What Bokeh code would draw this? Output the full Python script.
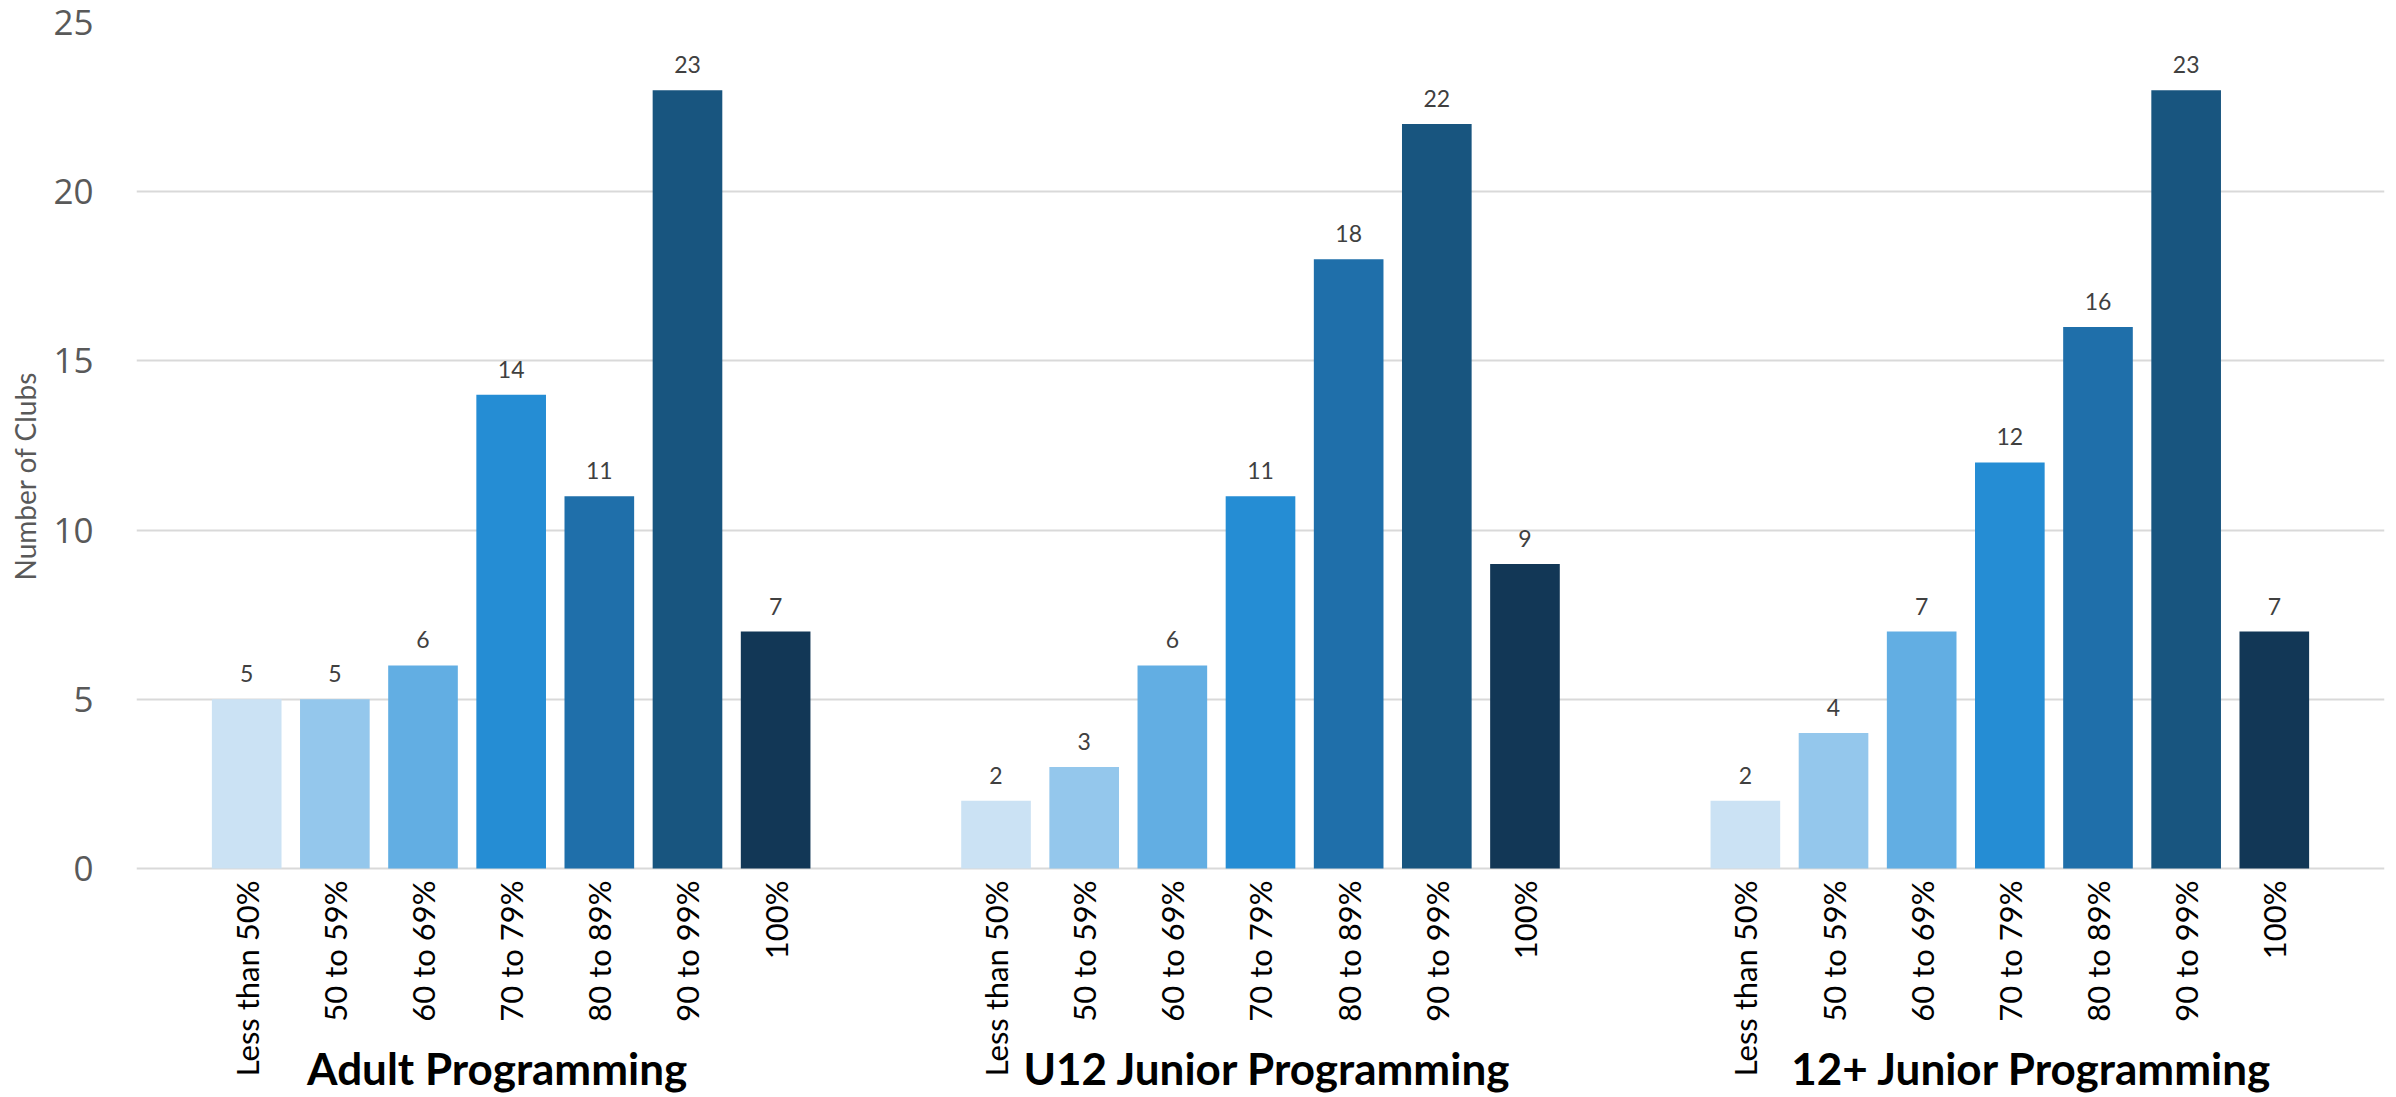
import math
from bokeh.plotting import figure
from bokeh.models import FactorRange, ColumnDataSource, LabelSet, FixedTicker, Range1d, Title
from bokeh.embed import file_html
from bokeh.resources import INLINE
from bokeh.core.properties import value

groups = ["Adult Programming", "U12 Junior Programming", "12+ Junior Programming"]
bands = ["Less than 50%", "50 to 59%", "60 to 69%", "70 to 79%", "80 to 89%", "90 to 99%", "100%"]
adult = [5, 5, 6, 14, 11, 23, 7]
u12_junior = [2, 3, 6, 11, 18, 22, 9]
junior_12plus = [2, 4, 7, 12, 16, 23, 7]
band_colors = ["#CBE2F4", "#94C7EC", "#62AEE3", "#258DD4", "#1F6FAA", "#18557F", "#123756"]
y_ticks = [0, 5, 10, 15, 20, 25]

# small horizontal nudges (px) of the group titles, as in the original
group_label_nudge = [-14, 7, 22]

series = [adult, u12_junior, junior_12plus]
factors = [(g, b) for g in groups for b in bands]
counts = [v for s in series for v in s]
colors = band_colors * len(groups)

src = ColumnDataSource(dict(x=factors, counts=counts, color=colors,
                            labels=[str(v) for v in counts],
                            base=[0] * len(factors),
                            band=[b for _ in groups for b in bands]))
group_src = ColumnDataSource(dict(x=groups, y=[0] * len(groups), text=groups,
                                  dx=group_label_nudge))

xr = FactorRange(*factors, group_padding=1.5, range_padding=0.75,
                 range_padding_units="absolute")

# the frame reaches down to the canvas bottom so that the category and group
# names (drawn below zero) are not clipped
p = figure(x_range=xr, y_range=Range1d(-6.77, 25), width=2396, height=1097,
           output_backend="svg", toolbar_location=None, x_axis_location=None,
           min_border_left=128, min_border_right=12, min_border_top=22,
           min_border_bottom=0)

p.vbar(x="x", top="counts", width=0.79, fill_color="color", line_color=None,
       source=src)

# value labels above bars
p.add_layout(LabelSet(x="x", y="counts", text="labels", source=src,
                      text_align="center", text_baseline="bottom", y_offset=17,
                      text_font_size="23px", text_color="#404040",
                      text_font=value("Lato")))

# category names, vertical, under each bar
p.add_layout(LabelSet(x="x", y="base", text="band", source=src,
                      angle=math.pi / 2, text_align="right",
                      text_baseline="middle", y_offset=-12,
                      text_font_size="31px", text_color="#000000",
                      text_font=value("Lato")))

# group names under the category labels
p.add_layout(LabelSet(x="x", y="y", text="text", source=group_src,
                      x_offset="dx",
                      text_align="center", text_baseline="alphabetic",
                      y_offset=-217, text_font_size="44px",
                      text_font_style="bold", text_color="#000000",
                      text_font=value("Lato")))

p.outline_line_color = None
p.xgrid.grid_line_color = None
p.ygrid.grid_line_color = "#D9D9D9"
p.ygrid.grid_line_width = 2

ya = p.yaxis[0]
ya.ticker = FixedTicker(ticks=y_ticks)
ya.major_label_text_font = "Open Sans"
ya.major_label_text_font_size = "35px"
ya.major_label_text_color = "#595959"
ya.major_label_standoff = 37
ya.axis_line_color = None
ya.major_tick_line_color = None
ya.minor_tick_line_color = None

p.add_layout(Title(text="Number of Clubs", align="left", offset=517,
                   vertical_align="top", standoff=14,
                   text_font="Lato", text_font_size="28px",
                   text_font_style="normal", text_color="#595959"), "left")

open("out.html", "w").write(file_html(p, INLINE))
